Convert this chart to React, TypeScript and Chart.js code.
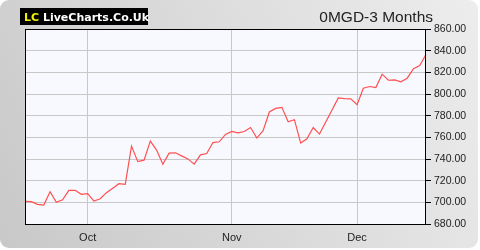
import React, { useEffect, useRef } from "react";
import { Chart, registerables } from "chart.js";

Chart.register(...registerables);

const xLabels = [
  "", "", "", "", "", "", "", "", "", "",
  "Oct", "", "", "", "", "", "", "", "", "",
  "", "", "", "", "", "", "", "", "", "",
  "", "", "", "Nov", "", "", "", "", "", "",
  "", "", "", "", "", "", "", "", "", "",
  "", "", "", "Dec", "", "", "", "", "", "",
  "", "", "", "", "",
];

const prices = [
  700.9, 700.6, 698.1, 697.5, 709.8, 700.0, 702.4, 711.1, 711.1, 707.4,
  708.0, 701.2, 703.3, 708.9, 713.0, 717.2, 716.7, 751.9, 737.6, 738.9,
  756.5, 748.2, 735.2, 745.4, 745.7, 742.9, 740.1, 735.2, 743.8, 745.0,
  755.2, 755.9, 762.7, 765.4, 764.2, 765.4, 769.1, 759.3, 766.1, 783.4,
  786.7, 787.7, 774.4, 776.3, 754.7, 758.7, 769.1, 763.0, 774.1, 785.3,
  796.4, 795.7, 795.5, 790.2, 805.3, 806.9, 805.9, 818.3, 812.7, 813.1,
  811.2, 814.6, 823.3, 826.3, 836.5,
];

const yMin = 680;
const yMax = 860;
const yStep = 20;
const titleText = "0MGD-3 Months";
const logoMark = "LC";
const logoText = "LiveCharts.Co.Uk";

const FONT = "Arial, 'Liberation Sans', sans-serif";

const decorPlugin = {
  id: "decor",
  beforeDraw(chart: any) {
    const { ctx, width, height, chartArea } = chart;
    ctx.save();
    ctx.fillStyle = "#ffffff";
    ctx.fillRect(0, 0, width, height);
    const g = ctx.createLinearGradient(0, height, width, 0);
    g.addColorStop(0, "#c8c8c8");
    g.addColorStop(1, "#ededed");
    ctx.fillStyle = g;
    ctx.beginPath();
    if (ctx.roundRect) ctx.roundRect(0, 0, width - 2, height - 2, 9);
    else ctx.rect(0, 0, width - 2, height - 2);
    ctx.fill();
    ctx.fillStyle = "#f8f9ff";
    ctx.fillRect(chartArea.left, chartArea.top, chartArea.right - chartArea.left, chartArea.bottom - chartArea.top);
    ctx.restore();
  },
  afterDraw(chart: any) {
    const { ctx, chartArea } = chart;
    ctx.save();
    ctx.strokeStyle = "#000000";
    ctx.lineWidth = 1;
    ctx.strokeRect(
      Math.round(chartArea.left) + 0.5,
      Math.round(chartArea.top) + 0.5,
      Math.round(chartArea.right - chartArea.left) - 1,
      Math.round(chartArea.bottom - chartArea.top)
    );
    // logo
    ctx.fillStyle = "#000000";
    ctx.fillRect(20, 8, 128, 17);
    ctx.font = "bold 11px 'DejaVu Sans', Verdana, sans-serif";
    ctx.textBaseline = "alphabetic";
    ctx.textAlign = "left";
    ctx.fillStyle = "#f0f000";
    ctx.fillText(logoMark, 24, 20.5);
    const w = ctx.measureText(logoMark + " ").width;
    ctx.fillStyle = "#ffffff";
    ctx.fillText(logoText, 24 + w, 20.5);
    // title
    ctx.font = "15.5px " + FONT;
    ctx.fillStyle = "#222222";
    ctx.textAlign = "right";
    ctx.fillText(titleText, 433, 22);
    ctx.restore();
  },
};

export default function App() {
  const canvasRef = useRef<HTMLCanvasElement | null>(null);

  useEffect(() => {
    document.body.style.margin = "0";
    const canvas = canvasRef.current;
    if (!canvas) return;
    const chart = new Chart(canvas, {
      type: "line",
      data: {
        labels: xLabels,
        datasets: [
          {
            data: prices,
            borderColor: "#ff4f4f",
            borderWidth: 1.2,
            pointRadius: 0,
            tension: 0,
            fill: false,
          },
        ],
      },
      options: {
        responsive: false,
        animation: false,
        layout: { padding: { left: 25, top: 29, right: 0, bottom: 0 } },
        plugins: {
          legend: { display: false },
          tooltip: { enabled: false },
          title: { display: false },
        },
        scales: {
          x: {
            type: "category",
            afterFit: (s: any) => {
              s.height = 26;
            },
            grid: {
              color: (c: any) => (xLabels[c.index] ? "#c8c8c8" : "rgba(0,0,0,0)"),
              drawTicks: false,
              lineWidth: 1,
            },
            border: { display: false },
            ticks: {
              autoSkip: false,
              maxRotation: 0,
              padding: 7,
              color: "#222222",
              font: { family: FONT, size: 11 },
              callback: (_v: any, i: number) => xLabels[i],
            },
          },
          y: {
            position: "right",
            min: yMin,
            max: yMax,
            afterFit: (s: any) => {
              s.width = 54;
            },
            grid: {
              color: "#c8c8c8",
              tickColor: "#000000",
              tickLength: 5,
              lineWidth: 1,
            },
            border: { display: false },
            ticks: {
              stepSize: yStep,
              padding: 3,
              color: "#222222",
              font: { family: FONT, size: 10.5 },
              callback: (v: any) => Number(v).toFixed(2),
            },
          },
        },
      },
      plugins: [decorPlugin],
    });
    return () => chart.destroy();
  }, []);

  return (
    <div style={{ width: 480, height: 250 }}>
      <canvas ref={canvasRef} width={480} height={250} style={{ display: "block" }} />
    </div>
  );
}
